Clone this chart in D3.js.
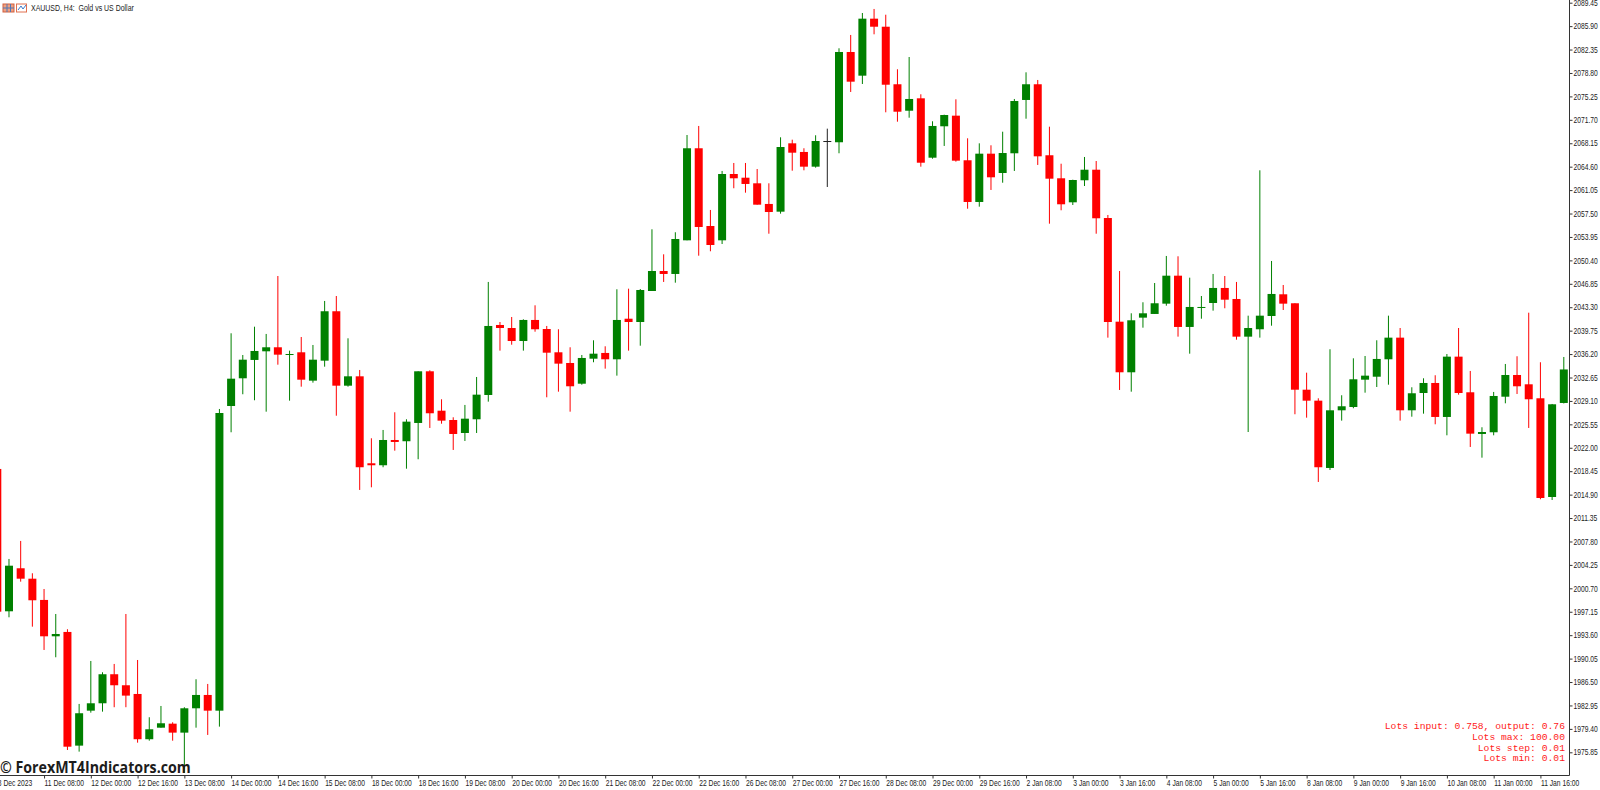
<!DOCTYPE html>
<html lang="en">
  <head>
    <meta charset="utf-8" />
    <title>XAUUSD, H4</title>
    <script src="https://cdnjs.cloudflare.com/ajax/libs/d3/7.0.0/d3.min.js"></script>
    <style>
      html,
      body {
        margin: 0;
        padding: 0;
        background: #ffffff;
        overflow: hidden;
      }
      svg {
        display: block;
      }
      .axis text,
      .title {
        font-family: "Liberation Sans", sans-serif;
        font-size: 8.4px;
        fill: #222;
      }
      .axis line,
      .frame {
        stroke: #333;
        stroke-width: 1px;
      }
      .lots {
        font-family: "Liberation Mono", monospace;
        font-size: 9.7px;
        fill: #ff2020;
        text-anchor: end;
      }
      .mark {
        font-family: "Open Sans", sans-serif;
        font-weight: 700;
        font-size: 15.5px;
        fill: #1c1c1c;
      }
    </style>
  </head>

  <body>
    <div id="chart"></div>

    <script>
      // H4 candles, oldest first
      const opens = [
        2018.79, 1997.22, 2003.74, 2002.16, 1998.94, 1993.43, 1994.09, 1976.86, 1982.16, 1983.28,
        1987.68, 1986.01, 1984.69, 1977.83, 1979.58, 1980.19, 1978.83, 1982.52, 1984.54, 1982.16,
        2028.33, 2032.53, 2035.31, 2036.62, 2037.23, 2036.06, 2036.47, 2032.17, 2035.20, 2042.69,
        2031.41, 2032.83, 2019.65, 2019.35, 2023.18, 2022.99, 2025.76, 2033.59, 2027.62, 2026.21,
        2024.24, 2026.32, 2030.00, 2040.61, 2040.15, 2038.18, 2041.37, 2040.00, 2036.47, 2034.85,
        2031.71, 2035.50, 2036.37, 2035.41, 2041.56, 2041.06, 2045.76, 2048.79, 2048.34, 2053.44,
        2067.39, 2055.61, 2053.44, 2063.49, 2062.93, 2062.08, 2058.95, 2057.78, 2068.14, 2066.83,
        2064.60, 2068.49, 2068.30, 2081.98, 2078.39, 2087.03, 2085.81, 2077.09, 2073.08, 2074.96,
        2065.96, 2070.72, 2072.33, 2065.57, 2059.25, 2066.57, 2063.64, 2066.63, 2074.71, 2077.09,
        2066.33, 2062.84, 2059.20, 2062.54, 2064.14, 2056.82, 2041.11, 2033.44, 2041.72, 2042.28,
        2043.84, 2048.08, 2040.31, 2043.19, 2043.94, 2046.22, 2044.55, 2038.84, 2039.96, 2041.97,
        2045.26, 2043.90, 2030.80, 2029.14, 2018.94, 2027.68, 2028.18, 2032.32, 2032.77, 2035.41,
        2038.69, 2027.68, 2030.30, 2031.82, 2026.67, 2035.81, 2030.41, 2024.09, 2024.35, 2029.74,
        2033.03, 2031.62, 2029.50, 2014.54, 2028.79,
      ];
      const highs = [
        2018.79, 2005.15, 2007.88, 2002.98, 2000.60, 1996.81, 1994.50, 1983.18, 1989.69, 1987.98,
        1989.24, 1996.81, 1989.84, 1981.16, 1982.87, 1980.40, 1982.68, 1986.92, 1986.21, 2027.88,
        2039.35, 2036.06, 2040.35, 2039.25, 2048.03, 2036.72, 2038.79, 2037.58, 2044.25, 2045.00,
        2038.59, 2033.79, 2023.44, 2024.70, 2027.38, 2026.32, 2033.59, 2033.74, 2029.35, 2026.62,
        2028.49, 2032.73, 2047.13, 2041.06, 2041.82, 2041.47, 2043.59, 2040.46, 2039.96, 2037.23,
        2036.06, 2038.29, 2037.38, 2046.02, 2046.11, 2046.06, 2055.11, 2051.32, 2054.66, 2069.40,
        2070.77, 2058.04, 2063.95, 2065.16, 2065.16, 2064.25, 2062.08, 2069.05, 2068.69, 2067.39,
        2069.36, 2070.36, 2082.54, 2084.56, 2087.89, 2088.50, 2087.63, 2079.36, 2081.22, 2075.57,
        2071.48, 2072.48, 2074.81, 2068.90, 2068.14, 2067.84, 2069.90, 2074.86, 2078.90, 2077.74,
        2070.66, 2065.05, 2062.63, 2066.07, 2065.46, 2057.28, 2048.79, 2042.38, 2044.05, 2046.97,
        2051.07, 2051.02, 2047.78, 2045.00, 2048.34, 2048.03, 2047.13, 2042.02, 2064.05, 2050.31,
        2046.67, 2043.90, 2033.38, 2029.50, 2036.93, 2029.96, 2035.56, 2035.91, 2038.29, 2042.02,
        2040.15, 2031.17, 2032.53, 2032.99, 2036.21, 2040.15, 2033.64, 2025.11, 2030.46, 2034.70,
        2035.87, 2042.47, 2034.96, 2028.64, 2035.76,
      ];
      const lows = [
        1997.16, 1996.31, 2001.71, 1994.89, 1991.36, 1990.25, 1976.20, 1975.95, 1981.86, 1982.01,
        1982.68, 1982.68, 1977.31, 1977.61, 1979.58, 1977.61, 1972.72, 1979.58, 1978.48, 1979.74,
        2024.35, 2030.11, 2029.20, 2027.47, 2034.59, 2029.14, 2031.26, 2031.87, 2034.29, 2026.86,
        2031.26, 2015.61, 2016.01, 2019.05, 2021.56, 2018.83, 2020.26, 2025.00, 2025.65, 2021.67,
        2023.03, 2024.24, 2028.99, 2036.72, 2037.62, 2036.72, 2039.59, 2029.65, 2030.50, 2027.47,
        2031.56, 2034.96, 2033.99, 2032.93, 2036.72, 2037.47, 2045.76, 2047.13, 2047.02, 2053.44,
        2051.11, 2051.78, 2052.88, 2061.33, 2060.66, 2058.84, 2054.44, 2057.48, 2063.99, 2064.05,
        2064.45, 2061.52, 2066.63, 2075.92, 2077.13, 2084.66, 2072.84, 2071.42, 2072.02, 2064.60,
        2065.81, 2067.74, 2065.36, 2058.23, 2058.54, 2061.07, 2062.17, 2063.95, 2071.87, 2064.86,
        2055.96, 2057.99, 2058.79, 2061.67, 2054.44, 2038.69, 2030.76, 2030.50, 2040.20, 2042.28,
        2043.53, 2038.84, 2036.26, 2041.56, 2042.78, 2043.14, 2038.38, 2024.39, 2038.69, 2040.50,
        2042.88, 2027.08, 2026.56, 2016.82, 2018.64, 2026.11, 2027.99, 2030.35, 2031.21, 2031.56,
        2026.11, 2026.71, 2027.17, 2025.56, 2023.89, 2030.05, 2022.12, 2020.50, 2023.89, 2028.74,
        2030.15, 2025.00, 2014.20, 2014.09, 2028.72,
      ];
      const closes = [
        1997.16, 2004.13, 2002.16, 1998.89, 1993.43, 1993.78, 1976.70, 1981.77, 1983.28, 1987.68,
        1986.01, 1984.44, 1977.83, 1979.34, 1980.25, 1978.83, 1982.52, 1984.54, 1982.16, 2027.27,
        2032.47, 2035.35, 2036.67, 2037.23, 2036.11, 2036.21, 2032.32, 2035.35, 2042.69, 2031.41,
        2032.83, 2019.05, 2019.35, 2023.18, 2022.88, 2025.96, 2033.59, 2027.23, 2026.11, 2024.09,
        2026.41, 2030.05, 2040.46, 2040.15, 2038.18, 2041.37, 2039.96, 2036.41, 2034.75, 2031.32,
        2035.61, 2036.26, 2035.41, 2041.37, 2041.06, 2045.91, 2048.79, 2048.34, 2053.64, 2067.39,
        2055.46, 2052.73, 2063.49, 2062.84, 2061.98, 2058.84, 2057.73, 2067.58, 2066.72, 2064.60,
        2068.49, 2068.49, 2081.98, 2077.48, 2087.03, 2085.81, 2077.02, 2072.93, 2074.86, 2065.20,
        2070.77, 2072.43, 2065.51, 2059.25, 2066.57, 2062.99, 2066.67, 2074.55, 2077.09, 2066.17,
        2062.78, 2058.90, 2062.58, 2064.14, 2056.78, 2041.06, 2033.44, 2041.32, 2042.38, 2043.90,
        2048.08, 2040.31, 2043.34, 2043.34, 2046.22, 2044.44, 2038.84, 2040.15, 2042.02, 2045.31,
        2043.84, 2030.80, 2029.14, 2019.05, 2027.68, 2028.29, 2032.38, 2032.93, 2035.46, 2038.69,
        2027.68, 2030.26, 2031.82, 2026.67, 2035.81, 2030.30, 2024.14, 2024.39, 2029.85, 2033.03,
        2031.32, 2029.35, 2014.39, 2028.59, 2033.87,
      ];

      const priceTicks = [
        2089.45, 2085.9, 2082.35, 2078.8, 2075.25, 2071.7, 2068.15, 2064.6, 2061.05, 2057.5, 2053.95,
        2050.4, 2046.85, 2043.3, 2039.75, 2036.2, 2032.65, 2029.1, 2025.55, 2022.0, 2018.45, 2014.9,
        2011.35, 2007.8, 2004.25, 2000.7, 1997.15, 1993.6, 1990.05, 1986.5, 1982.95, 1979.4, 1975.85,
      ];
      const timeLabels = [
        "8 Dec 2023", "11 Dec 08:00", "12 Dec 00:00", "12 Dec 16:00", "13 Dec 08:00", "14 Dec 00:00",
        "14 Dec 16:00", "15 Dec 08:00", "18 Dec 00:00", "18 Dec 16:00", "19 Dec 08:00", "20 Dec 00:00",
        "20 Dec 16:00", "21 Dec 08:00", "22 Dec 00:00", "22 Dec 16:00", "26 Dec 08:00", "27 Dec 00:00",
        "27 Dec 16:00", "28 Dec 08:00", "29 Dec 00:00", "29 Dec 16:00", "2 Jan 08:00", "3 Jan 00:00",
        "3 Jan 16:00", "4 Jan 08:00", "5 Jan 00:00", "5 Jan 16:00", "8 Jan 08:00", "9 Jan 00:00",
        "9 Jan 16:00", "10 Jan 08:00", "11 Jan 00:00", "11 Jan 16:00",
      ];
      const barsPerLabel = 4;
      const lotsLines = [
        "Lots input: 0.758, output: 0.76",
        "Lots max: 100.00",
        "Lots step: 0.01",
        "Lots min: 0.01",
      ];

      const width = 1600;
      const height = 790;
      const axisX = 1569.5;
      const axisY = 775.5;
      const bodyWidth = 8;

      const x = d3.scaleLinear().domain([0, 134]).range([-2.7, 1563.8]);
      const y = d3.scaleLinear().domain([1975.85, 2089.45]).range([752.3, 2.7]);

      const svg = d3
        .select("#chart")
        .append("svg")
        .attr("width", width)
        .attr("height", height);

      // the chart font is narrower than anything installed, so squeeze the text
      function condense(selection, factor) {
        selection.each(function () {
          const left = +this.getAttribute("x") || 0;
          d3.select(this)
            .attr("x", left / factor)
            .attr("transform", `scale(${factor},1)`);
        });
      }

      const candleColor = (i) =>
        closes[i] > opens[i] ? "#008000" : closes[i] < opens[i] ? "#ff0000" : "#222222";

      const candles = svg
        .append("g")
        .selectAll("g")
        .data(d3.range(opens.length))
        .enter()
        .append("g");

      candles
        .append("line")
        .attr("x1", (i) => x(i))
        .attr("x2", (i) => x(i))
        .attr("y1", (i) => y(highs[i]))
        .attr("y2", (i) => y(lows[i]))
        .attr("stroke", candleColor)
        .attr("stroke-width", 1);

      candles
        .append("rect")
        .attr("x", (i) => x(i) - bodyWidth / 2)
        .attr("width", bodyWidth)
        .attr("y", (i) => y(Math.max(opens[i], closes[i])))
        .attr("height", (i) => Math.max(1, Math.abs(y(opens[i]) - y(closes[i]))))
        .attr("fill", candleColor);

      // axes
      const priceAxis = d3
        .axisRight(y)
        .tickValues(priceTicks)
        .tickFormat((d) => d.toFixed(2))
        .tickSize(3)
        .tickPadding(1);
      const gy = svg
        .append("g")
        .attr("class", "axis")
        .attr("transform", `translate(${axisX},0)`)
        .call(priceAxis);
      gy.select(".domain").remove();
      condense(gy.selectAll("text"), 0.8);

      const timeAxis = d3
        .axisBottom(x)
        .tickValues(timeLabels.map((d, i) => i * barsPerLabel))
        .tickFormat((d) => timeLabels[d / barsPerLabel])
        .tickSize(3)
        .tickPadding(2);
      const gx = svg
        .append("g")
        .attr("class", "axis")
        .attr("transform", `translate(0,${axisY})`)
        .call(timeAxis);
      gx.select(".domain").remove();
      gx.selectAll("text").attr("text-anchor", "start");
      condense(gx.selectAll("text"), 0.8);

      svg
        .append("path")
        .attr("class", "frame")
        .attr("fill", "none")
        .attr("d", `M0,${axisY}H${axisX}V0`);

      // header: two small toolbar icons and the symbol
      const icons = svg.append("g");
      icons.append("rect").attr("x", 3).attr("y", 4).attr("width", 11).attr("height", 8).attr("fill", "#f0a080").attr("stroke", "#d06040");
      icons.append("path").attr("d", "M7,4V12M10.5,4V12M3,8H14").attr("stroke", "#4f78b8").attr("fill", "none");
      icons.append("rect").attr("x", 16.5).attr("y", 4).attr("width", 10).attr("height", 8).attr("fill", "#ffffff").attr("stroke", "#e07050");
      icons.append("path").attr("d", "M18,10L21,6L23,9L26,5").attr("stroke", "#3a78c8").attr("fill", "none");

      svg
        .append("text")
        .attr("class", "title")
        .attr("x", 31)
        .attr("y", 11)
        .attr("xml:space", "preserve")
        .text("XAUUSD, H4:  Gold vs US Dollar")
        .call(condense, 0.83);

      svg
        .append("text")
        .attr("class", "mark")
        .attr("x", 0)
        .attr("y", 773)
        .text("© ForexMT4Indicators.com")
        .call(condense, 0.918);

      svg
        .append("g")
        .selectAll("text")
        .data(lotsLines)
        .enter()
        .append("text")
        .attr("class", "lots")
        .attr("x", 1565)
        .attr("y", (d, i) => 729 + i * 10.8)
        .text((d) => d);
    </script>
  </body>
</html>
